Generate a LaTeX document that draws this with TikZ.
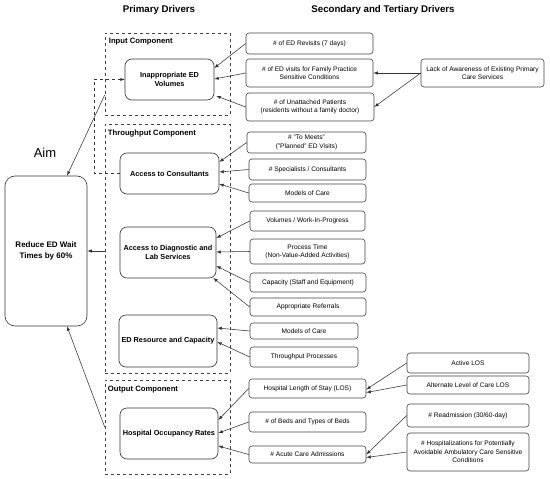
\documentclass[tikz,border=0pt]{standalone}
\usepackage{fontspec}
\setmainfont{Liberation Sans}
\usepackage{tikz}
\usetikzlibrary{calc,arrows}
\tikzset{
    prim/.style={draw=black!80, rounded corners=7pt, line width=0.6pt, align=center,
            font=\fontsize{7.3}{9.6}\selectfont\bfseries, inner sep=1pt},
    sec/.style={draw=black!75, rounded corners=3pt, line width=0.6pt, align=center,
            font=\fontsize{6.6}{8.4}\selectfont, inner sep=1pt},
    comp/.style={draw=black!75, dashed, line width=0.6pt, inner sep=0pt},
    complabel/.style={anchor=north west, font=\fontsize{7.7}{9}\selectfont\bfseries, inner sep=0pt},
    link/.style={draw=black!80, line width=0.55pt, -latex}
}
\begin{document}
\begin{tikzpicture}[x=1pt,y=-1pt]
            \useasboundingbox (0,0) rectangle (550,479);
            % column titles
            \node[font=\fontsize{9.7}{12}\selectfont\bfseries] (ptitle) at (159,10) {Primary Drivers};
            \node[font=\fontsize{9.7}{12}\selectfont\bfseries] (stitle) at (383,10) {Secondary and Tertiary Drivers};
            % aim
            \node[font=\fontsize{13}{15}\selectfont] (aim) at (45,153) {Aim};
            \node[prim, font=\fontsize{8}{10.5}\selectfont\bfseries, rounded corners=10pt, minimum width=82, minimum height=150] (reduce) at (46,251) {Reduce ED Wait\\Times by 60\%};
            % component boxes
            \node[comp, minimum width=125, minimum height=82] (inbox) at (167.5,74) {};
            \node[complabel] (inlab) at ([shift={(4,5)}]inbox.north west) {Input Component};
            \node[comp, minimum width=125, minimum height=249] (thrubox) at (167.5,248.5) {};
            \node[complabel] (thrulab) at ([shift={(3,6)}]thrubox.north west) {Throughput Component};
            \node[comp, minimum width=125, minimum height=94] (outbox) at (167.5,427) {};
            \node[complabel] (outlab) at ([shift={(3,6)}]outbox.north west) {Output Component};
            % primary drivers
            \node[prim, minimum width=89, minimum height=41] (ina) at (169.5,79.5) {Inappropriate ED\\Volumes};
            \node[prim, minimum width=99, minimum height=41] (acc) at (169.5,173.5) {Access to Consultants};
            \node[prim, minimum width=96, minimum height=51] (diag) at (168,252.5) {Access to Diagnostic and\\Lab Services};
            \node[prim, minimum width=98, minimum height=52] (edres) at (168,341) {ED Resource and Capacity};
            \node[prim, minimum width=98, minimum height=51] (occ) at (169,433.5) {Hospital Occupancy Rates};
            % secondary drivers
            \node[sec, minimum width=127, minimum height=21] (rev) at (309.5,43.5) {\# of ED Revisits (7 days)};
            \node[sec, minimum width=127, minimum height=28] (fam) at (309.5,73) {\# of ED visits for Family Practice\\Sensitive Conditions};
            \node[sec, minimum width=128, minimum height=28] (unatt) at (310,107) {\# of Unattached Patients\\(residents without a family doctor)};
            \node[sec, minimum width=119, minimum height=21] (meets) at (306.5,142.5) {\# "To Meets"\\("Planned" ED Visits)};
            \node[sec, minimum width=117, minimum height=21] (spec) at (307.5,169.5) {\# Specialists / Consultants};
            \node[sec, minimum width=117, minimum height=18] (moca) at (307.5,193) {Models of Care};
            \node[sec, minimum width=115, minimum height=20] (vol) at (307.5,221) {Volumes / Work-In-Progress};
            \node[sec, minimum width=115, minimum height=25] (proc) at (307.5,251.5) {Process Time\\(Non-Value-Added Activities)};
            \node[sec, minimum width=116, minimum height=19] (cap) at (308,282.5) {Capacity (Staff and Equipment)};
            \node[sec, minimum width=116, minimum height=18] (refs) at (308,307) {Appropriate Referrals};
            \node[sec, minimum width=108, minimum height=16] (mocb) at (304,331) {Models of Care};
            \node[sec, minimum width=108, minimum height=20] (tpp) at (304,357) {Throughput Processes};
            \node[sec, minimum width=117, minimum height=19] (hlos) at (307.5,388.5) {Hospital Length of Stay (LOS)};
            \node[sec, minimum width=117, minimum height=20] (beds) at (307.5,422) {\# of Beds and Types of Beds};
            \node[sec, minimum width=117, minimum height=17] (acute) at (307.5,454.5) {\# Acute Care Admissions};
            % tertiary drivers
            \node[sec, minimum width=123, minimum height=28] (lack) at (482.5,73) {Lack of Awareness of Existing Primary\\Care Services};
            \node[sec, minimum width=122, minimum height=20] (alos) at (468,363) {Active LOS};
            \node[sec, minimum width=122, minimum height=18] (alc) at (468,385) {Alternate Level of Care LOS};
            \node[sec, minimum width=122, minimum height=23] (readm) at (468,415.5) {\# Readmission (30/60-day)};
            \node[sec, minimum width=122, minimum height=38] (hosp) at (468,452) {\# Hospitalizations for Potentially\\Avoidable Ambulatory Care Sensitive\\Conditions};
            % components to aim
            \draw[link] ([yshift=-21pt]inbox.west) -- ([xshift=21pt]reduce.north);
            \draw[link] (thrubox.west |- reduce.east) -- (reduce.east);
            \draw[link] (outbox.west) -- ([xshift=21pt]reduce.south);
            % dashed feedback
            \coordinate (bend) at (94,79.5);
            \draw[link, dashed] (acc.west) -| (bend) -- (ina.west);
            % secondary to primary
            \draw[link] (rev.west) -- ([yshift=11.5pt]ina.east);
            \draw[link] (fam.west) -- ([yshift=0.5pt]ina.east);
            \draw[link] (unatt.west) -- ([shift={(2pt,-16.5pt)}]ina.east);
            \draw[link] (meets.west) -- ([yshift=11.5pt]acc.east);
            \draw[link] (spec.west) -- ([yshift=1.5pt]acc.east);
            \draw[link] (moca.west) -- ([yshift=-10.5pt]acc.east);
            \draw[link] (vol.west) -- ([yshift=14.5pt]diag.east);
            \draw[link] (proc.west) -- ([yshift=0.5pt]diag.east);
            \draw[link] (cap.west) -- ([yshift=-13.5pt]diag.east);
            \draw[link] (refs.west) -- ([shift={(-3pt,-25.5pt)}]diag.east);
            \draw[link] (mocb.west) -- ([yshift=13pt]edres.east);
            \draw[link] (tpp.west) -- ([yshift=-1pt]edres.east);
            \draw[link] (hlos.west) -- ([yshift=13.5pt]occ.east);
            \draw[link] (beds.west) -- ([yshift=0.5pt]occ.east);
            \draw[link] (acute.west) -- ([yshift=-12.5pt]occ.east);
            % tertiary to secondary
            \draw[link] (lack.west) -- (fam.east);
            \draw[link] (lack.west) -- (unatt.east);
            \draw[link] (alos.west) -- ([yshift=-1pt]hlos.east);
            \draw[link] (alc.west) -- ([yshift=-4pt]hlos.east);
            \draw[link] (readm.west) -- ([yshift=0pt]acute.east);
            \draw[link] (hosp.west) -- ([yshift=-3pt]acute.east);
\end{tikzpicture}
\end{document}
